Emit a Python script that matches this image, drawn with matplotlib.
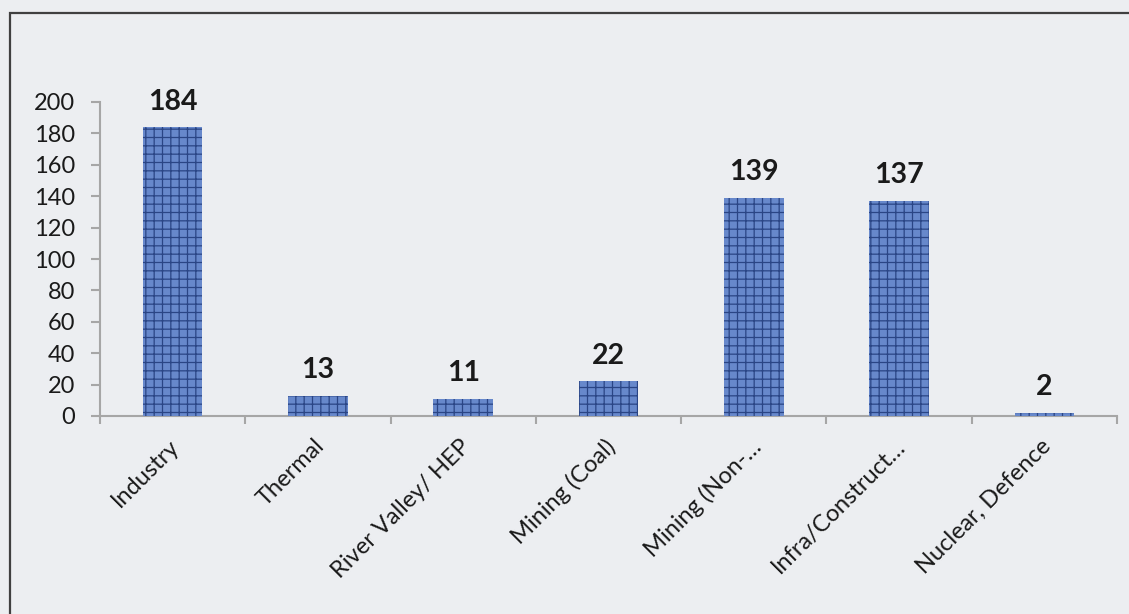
import matplotlib
matplotlib.use("Agg")
import matplotlib.pyplot as plt
from matplotlib.patches import Rectangle
import matplotlib.transforms as mtransforms
import numpy as np

categories = ["Industry", "Thermal", "River Valley/ HEP", "Mining (Coal)",
              "Mining (Non-…", "Infra/Construct…", "Nuclear, Defence"]
values = [184, 13, 11, 22, 139, 137, 2]
yticks = [0, 20, 40, 60, 80, 100, 120, 140, 160, 180, 200]

plt.rcParams['font.family'] = ['Lato', 'DejaVu Sans']
plt.rcParams['hatch.linewidth'] = 0.9

W, H = 1129, 614
fig = plt.figure(figsize=(W / 100, H / 100), dpi=100)
fig.patch.set_facecolor('#eceef1')

# outer border
fig.patches.append(Rectangle((10 / W, -0.05), 1.2, 1 - 13 / H + 0.05,
                             transform=fig.transFigure, fill=False,
                             edgecolor='#404040', linewidth=1.6, zorder=0))

ax = fig.add_axes([100 / W, 1 - 416 / H, (1117 - 100) / W, (416 - 102) / H])
ax.set_facecolor('none')

x = np.arange(len(categories))
bars = ax.bar(x, values, width=0.41, color='#6788cb', edgecolor='#2a4585',
              hatch='++', linewidth=0, zorder=3)
labels = ax.bar_label(bars, labels=[str(v) for v in values], padding=9,
                      fontsize=20.5, fontweight='bold', color='#1a1a1a')

ax.set_xlim(-0.5, len(categories) - 0.5)
ax.set_ylim(0, 200)
ax.set_yticks(yticks)
ax.set_yticklabels([str(t) for t in yticks], fontsize=17, color='#1a1a1a')

ax.set_xticks(x)
ax.set_xticklabels(categories, fontsize=17, color='#1a1a1a', rotation=45,
                   ha='right', va='top', rotation_mode='anchor')
ax.set_xticks(np.arange(len(categories) + 1) - 0.5, minor=True)
ax.tick_params(axis='x', which='major', length=0, pad=14)
ax.tick_params(axis='x', which='minor', length=6, width=1.5, color='#a6a6a6', direction='out')
ax.tick_params(axis='y', length=6.5, width=1.5, color='#a6a6a6', direction='out', pad=11.5)

offset = mtransforms.ScaledTranslation(-3 / 72, 0, fig.dpi_scale_trans)
for lab in ax.get_xticklabels():
    lab.set_transform(lab.get_transform() + offset)

for s in ['top', 'right']:
    ax.spines[s].set_visible(False)
for s in ['left', 'bottom']:
    ax.spines[s].set_color('#a6a6a6')
    ax.spines[s].set_linewidth(1.5)

fig.savefig('out.png', dpi=100, facecolor=fig.get_facecolor())
